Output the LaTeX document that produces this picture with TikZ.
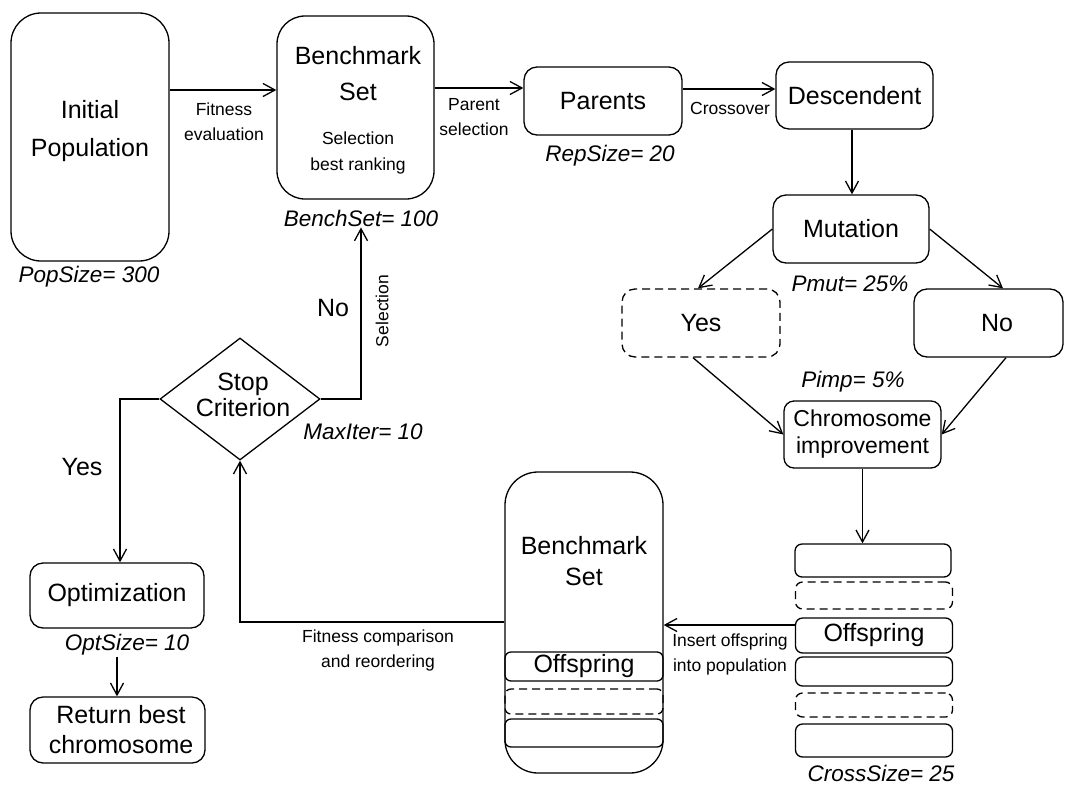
\documentclass[tikz,border=0pt]{standalone}
\usepackage{fontspec}
\setmainfont{Liberation Sans}
\usetikzlibrary{arrows.meta,shapes.geometric}
\begin{document}
\begin{tikzpicture}[x=1pt,y=-1pt,
  box/.style={draw, line width=1.3pt, rounded corners=#1, inner sep=0pt},
  box/.default=13pt,
  big/.style={font=\fontsize{25}{30}\selectfont, align=center, inner sep=0pt},
  small/.style={font=\fontsize{17.5}{25}\selectfont, align=center, inner sep=0pt},
  ital/.style={font=\fontsize{22.5}{27}\selectfont\itshape, inner sep=1pt},
  arr/.style={draw, line width=1.3pt, -{Straight Barb[length=12pt,width=13pt,line width=1.3pt]}},
  ln/.style={draw, line width=1.3pt},
  dsh/.style={dash pattern=on 8pt off 5pt}]
\useasboundingbox (0,0) rectangle (1065,785);

% ---- top row ----
\node[box=30pt, minimum width=158pt, minimum height=248pt] (init) at (90,137) {};
\node[big, font=\fontsize{25}{38}\selectfont] (inittxt) at (90,131) {Initial\\Population};
\node[ital] (poplbl) at (89,277) {PopSize= 300};

\node[box=28pt, minimum width=157pt, minimum height=183pt] (bench) at (355.5,107.5) {};
\node[big, font=\fontsize{25}{36}\selectfont] (benchtxt) at (358,74) {Benchmark\\Set};
\node[small, font=\fontsize{17.5}{26}\selectfont] (benchsub) at (358,153) {Selection\\best ranking};
\node[ital] (benchlbl) at (361,218) {BenchSet= 100};

\node[box, big, minimum width=158pt, minimum height=68pt] (par) at (603,101) {Parents};
\node[ital] (replbl) at (610,156) {RepSize= 20};

\node[box, big, minimum width=157pt, minimum height=67pt] (desc) at (854.5,95.5) {Descendent};
\node[box, big, minimum width=156pt, minimum height=68pt] (mut) at (851,229) {Mutation};
\node[ital] (pmutlbl) at (850,284) {Pmut= 25\%};

\node[box, dsh, big, minimum width=158pt, minimum height=68pt] (yes) at (701,323) {Yes};
\node[box, minimum width=149pt, minimum height=68pt] (no) at (988.5,323) {};
\node[big] (notxt) at (997,323) {No};
\node[ital] (pimplbl) at (853,382) {Pimp= 5\%};
\node[box=10pt, big, font=\fontsize{23}{27}\selectfont, minimum width=157pt, minimum height=67pt] (chrom) at (862.5,434.5) {Chromosome\\improvement};

% ---- right stack ----
\node[box=7pt, minimum width=156pt, minimum height=33pt] (s1) at (873,560.5) {};
\node[box=7pt, dsh, minimum width=157pt, minimum height=27pt] (s2) at (874,595.5) {};
\node[box=7pt, big, minimum width=157pt, minimum height=35pt] (s3) at (874,635.5) {Offspring};
\node[box=7pt, minimum width=157pt, minimum height=29pt] (s4) at (874,671.5) {};
\node[box=7pt, dsh, minimum width=157pt, minimum height=24pt] (s5) at (874,705) {};
\node[box=7pt, minimum width=157pt, minimum height=33pt] (s6) at (874,740.5) {};
\node[ital] (crosslbl2) at (881,773) {CrossSize= 25};

% ---- bottom benchmark ----
\node[box=33pt, minimum width=158pt, minimum height=301pt] (bb) at (584,622.5) {};
\node[big, font=\fontsize{25}{31}\selectfont] (bbtxt) at (584,561.5) {Benchmark\\Set};
\node[box=6pt, big, minimum width=158pt, minimum height=29pt] (b1) at (584,666.5) {Offspring};
\node[box=6pt, dsh, minimum width=158pt, minimum height=25pt] (b2) at (584,701.5) {};
\node[box=6pt, minimum width=158pt, minimum height=28pt] (b3) at (584,733) {};

% ---- left side ----
\node[diamond, draw, line width=1.3pt, minimum width=160pt, minimum height=122pt, inner sep=0pt] (dia) at (240,399) {};
\node[big, font=\fontsize{25}{26}\selectfont] (diatxt) at (243,395) {Stop\\Criterion};
\node[ital] (maxlbl) at (363,432) {MaxIter= 10};

\node[box, big, minimum width=174pt, minimum height=65pt] (opt) at (117,595.5) {Optimization};
\node[ital] (optlbl) at (127,645) {OptSize= 10};
\node[box, minimum width=175pt, minimum height=66pt] (ret) at (117.5,730) {};
\node[big] (rettxt) at (121,730) {Return best\\chromosome};

% ---- connectors ----
\draw[arr] (init.east |- 0,90) -- (bench.west |- 0,90);
\node[small] (fitlbl) at (224,122) {Fitness\\evaluation};
\draw[arr] (bench.east |- 0,88) -- (par.west |- 0,88);
\node[small] (parlbl) at (474,117) {Parent\\selection};
\draw[arr] (par.east |- 0,89) -- (desc.west |- 0,89);
\node[small] (crosslbl) at (730,108) {Crossover};
\draw[arr] (desc.south -| 852,0) -- (mut.north -| 852,0);
\draw[arr] (mut.west) -- (yes.north -| 698,0);
\draw[arr] (mut.east) -- (no.north -| 1003,0);
\draw[arr] (yes.south -| 693,0) -- (chrom.west);
\draw[arr] (no.south -| 1006,0) -- (chrom.east);
\draw[arr] (chrom.south) -- (s1.north -| chrom.south);
\draw[arr] (s3.west |- 0,625) -- (bb.east |- 0,625);
\node[small] (inslbl) at (730,654.5) {Insert offspring\\into population};
\draw[arr] (bb.west |- 0,622) -| (dia.south);
\node[small] (fcmplbl) at (378,650.5) {Fitness comparison\\and reordering};
\draw[arr] (dia.east) -| (benchlbl.south -| 361,0);
\node[big] (nolbl) at (333,308) {No};
\node[small, rotate=90] (sellbl) at (382,311) {Selection};
\draw[arr] (dia.west) -| (opt.north -| 120,0);
\node[big] (yeslbl) at (82,467) {Yes};
\draw[arr] (optlbl.south -| 117,0) -- (ret.north -| 117,0);
\end{tikzpicture}
\end{document}
